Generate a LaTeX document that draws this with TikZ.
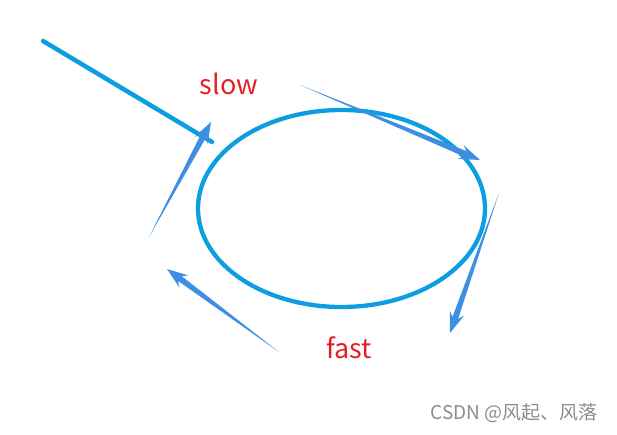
\documentclass[tikz,border=0pt]{standalone}
\usepackage{fontspec}
\setmainfont{Noto Sans CJK SC}
\usetikzlibrary{positioning,calc}

\definecolor{ringblue}{RGB}{12,158,224}
\definecolor{tapblue}{RGB}{62,142,226}
\definecolor{speedred}{RGB}{228,32,38}

\tikzset{
  ring/.style={draw=ringblue, line width=4.3pt},
  speed/.style={text=speedred, font=\fontsize{27}{31}\selectfont},
  tapfill/.style={fill=tapblue},
}

% thin tail at #1, head at #2
\newcommand{\taper}[2]{%
  \path ($(#2)!16pt!(#1)$) coordinate (hb) ($(#2)!21pt!(#1)$) coordinate (wb);
  \fill[tapfill] (#1) -- ($(hb)!3pt!90:(#2)$) -- ($(wb)!7.5pt!90:(#2)$) -- (#2)
    -- ($(wb)!7.5pt!-90:(#2)$) -- ($(hb)!3pt!-90:(#2)$) -- cycle;
}

\begin{document}
\begin{tikzpicture}[x=1pt,y=-1pt]
\useasboundingbox (0,0) rectangle (617,435);

\def\rx{143.5};
\def\ry{98.5};

\coordinate (o) at (341.5,208.5);
\draw[ring] (o) ellipse [x radius=\rx, y radius=\ry];

\coordinate (s) at (43,41);
\coordinate (e) at (212,142);
\draw[ring, line width=4.5pt, line cap=round] (s) -- (e);

\coordinate (t1) at (149,237);
\coordinate (h1) at (211,122);
\coordinate (t2) at (300,85);
\coordinate (h2) at (480,160);
\coordinate (t3) at (499,193);
\coordinate (h3) at (450,333);
\coordinate (t4) at (279,352);
\coordinate (h4) at (167,269);

\taper{t1}{h1}
\taper{t2}{h2}
\taper{t3}{h3}
\taper{t4}{h4}

\node[speed] (slow) at (229,84) {slow};
\node[speed] (fast) at (349,348) {fast};

\node[text=black!45, font=\fontsize{19}{22}\selectfont] (mark) at (514,413) {CSDN @风起、风落};

\end{tikzpicture}
\end{document}
